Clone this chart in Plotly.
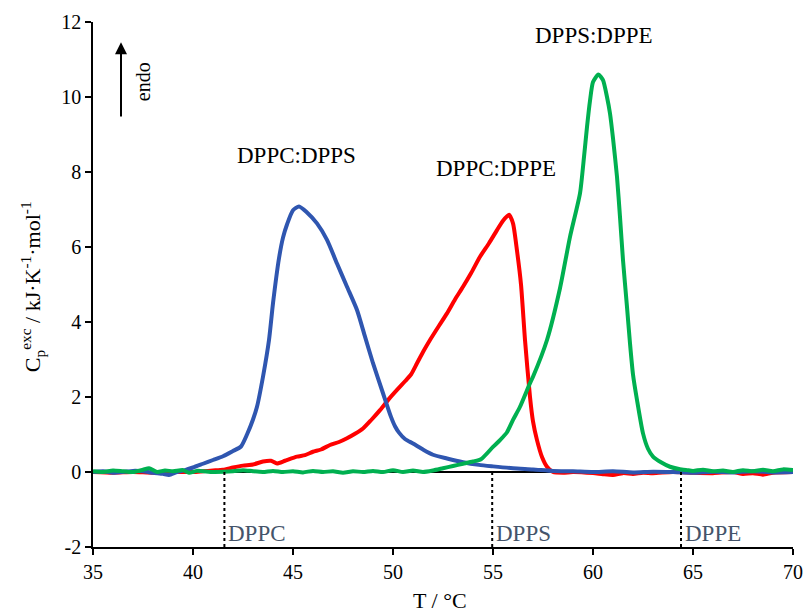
import plotly.graph_objects as go

# ---- data ----
x_dppc_dpps = [35, 35.5, 36, 36.5, 37, 37.5, 38, 38.5, 38.8, 39.2, 39.6, 40, 40.5, 41, 41.5, 42, 42.4,
               42.7, 43.0, 43.2, 43.5, 43.8, 44.0, 44.3, 44.5, 44.7, 45.0, 45.3, 45.7, 46.2, 46.7, 47.2, 47.7,
               48.2, 48.6, 49.0, 49.5, 49.9, 50.1, 50.3, 50.6, 51.0, 51.5, 52.0, 52.7, 53.5, 54.3, 55, 56, 57,
               58, 59, 60, 61, 62, 63, 64, 65, 66, 67, 68, 69, 70]
y_dppc_dpps = [0.0, 0.02, -0.02, 0.0, 0.03, 0.02, -0.02, -0.05, -0.08, 0.0, 0.05, 0.12, 0.22, 0.32, 0.42,
               0.56, 0.68, 1.0, 1.4, 1.74, 2.54, 3.52, 4.5, 5.7, 6.25, 6.6, 6.98, 7.08, 6.92, 6.63, 6.19, 5.56,
               4.94, 4.32, 3.61, 2.9, 2.1, 1.47, 1.22, 1.05, 0.88, 0.76, 0.6, 0.46, 0.36, 0.26, 0.19, 0.15, 0.1,
               0.07, 0.03, 0.02, 0.0, 0.02, -0.01, 0.01, 0.0, -0.02, 0.01, -0.01, 0.02, -0.01, 0.0]

x_dppc_dppe = [35, 36, 37, 38, 39, 40, 40.5, 41, 41.5, 42, 42.5, 43, 43.5, 43.9, 44.2, 44.6, 45.2, 45.6,
               46.0, 46.4, 46.85, 47.3, 47.7, 48.1, 48.5, 48.9, 49.35, 49.8, 50.2, 50.6, 50.9, 51.2, 51.5,
               51.85, 52.3, 52.7, 53.1, 53.5, 53.9, 54.35, 54.8, 55.2, 55.5, 55.8, 56.0, 56.2, 56.4,
               56.6, 56.85, 57.0, 57.2, 57.45, 57.7, 58.0, 58.5, 59, 60, 60.5, 61, 61.5, 62, 62.5, 63,
               64, 65, 66, 67, 67.5, 68, 68.5, 69, 70]
y_dppc_dppe = [0.0, -0.02, 0.0, -0.02, 0.0, 0.0, 0.02, 0.04, 0.06, 0.12, 0.17, 0.2, 0.28, 0.3, 0.23, 0.3,
               0.41, 0.45, 0.54, 0.6, 0.72, 0.8, 0.9, 1.02, 1.16, 1.38, 1.65, 1.95, 2.19, 2.42, 2.6, 2.9, 3.2,
               3.52, 3.9, 4.23, 4.6, 4.94, 5.3, 5.74, 6.1, 6.45, 6.7, 6.86, 6.63, 5.9, 5.0, 3.52, 2.0,
               1.35, 0.85, 0.4, 0.14, 0.0, -0.02, 0.0, -0.03, -0.06, -0.08, -0.03, -0.05, -0.02, -0.03,
               0.0, -0.02, -0.03, 0.0, -0.05, -0.03, -0.07, -0.02, 0.0]

x_dpps_dppe = [35, 35.5, 36, 36.5, 37, 37.5, 37.8, 38.2, 38.6, 39, 39.5, 39.8, 40.2, 41, 42, 42.5, 43,
               43.5, 44, 44.5, 45, 45.5, 46, 46.5, 47, 47.5, 48, 48.5, 49, 49.5, 50, 50.5, 51, 51.5, 52,
               52.5, 53, 53.5, 54, 54.4, 55.0, 55.35, 55.7, 56.0, 56.35, 56.85, 57.0, 57.7, 58.35, 58.85,
               59.35, 59.55, 59.7, 59.85, 60.0, 60.27, 60.5, 60.7, 60.85, 61.0, 61.2, 61.35, 61.5, 61.7,
               61.85, 62.0, 62.2, 62.5, 62.75, 63.0, 63.4, 63.85, 64.3, 64.7, 65, 65.5, 66, 66.5, 67,
               67.5, 68, 68.5, 69, 69.5, 70]
y_dpps_dppe = [0.02, 0.0, 0.04, 0.02, 0.0, 0.06, 0.1, 0.0, 0.04, 0.02, 0.05, -0.02, 0.03, 0.0, 0.02, 0.05,
               0.02, 0.0, 0.03, 0.0, 0.02, -0.01, 0.03, 0.0, 0.02, -0.02, 0.02, 0.0, 0.03, 0.0, 0.05, 0.0,
               0.04, 0.0, 0.04, 0.1, 0.16, 0.22, 0.28, 0.34, 0.67, 0.85, 1.06, 1.39, 1.74, 2.37, 2.54,
               3.52, 4.9, 6.27, 7.43, 8.4, 9.2, 9.9, 10.4, 10.6, 10.45, 10.0, 9.56, 8.9, 7.87, 6.8, 5.65,
               4.4, 3.43, 2.6, 1.92, 1.03, 0.62, 0.41, 0.26, 0.14, 0.08, 0.05, 0.03, 0.06, 0.02, 0.04,
               0.0, 0.05, 0.02, 0.06, 0.02, 0.07, 0.05]

pure_names = ["DPPC", "DPPS", "DPPE"]
pure_tm = [41.57, 54.96, 64.4]

x_ticks = [35, 40, 45, 50, 55, 60, 65, 70]
y_ticks = [-2, 0, 2, 4, 6, 8, 10, 12]
y_ticktext = ["-2", "0", "2", "4", "6", "8", "10", "12"]

FONT = "Liberation Serif"

fig = go.Figure()
fig.add_trace(go.Scatter(x=x_dppc_dppe, y=y_dppc_dppe, mode="lines", line=dict(color="#FF0000", width=4, shape="spline", smoothing=0.6),
                         name="DPPC:DPPE"))
fig.add_trace(go.Scatter(x=x_dppc_dpps, y=y_dppc_dpps, mode="lines", line=dict(color="#2F56B0", width=4, shape="spline", smoothing=0.6),
                         name="DPPC:DPPS"))
fig.add_trace(go.Scatter(x=x_dpps_dppe, y=y_dpps_dppe, mode="lines", line=dict(color="#00B050", width=4, shape="spline", smoothing=0.6),
                         name="DPPS:DPPE"))

# dotted markers for pure lipid transition temperatures
for name, tm in zip(pure_names, pure_tm):
    fig.add_shape(type="line", x0=tm, x1=tm, y0=0, y1=-2, xref="x", yref="y",
                  line=dict(color="black", width=2, dash="dot"))
    fig.add_annotation(x=tm, y=-1.65, xref="x", yref="y", text=name, showarrow=False,
                       xanchor="left", xshift=2, yanchor="middle",
                       font=dict(family=FONT, size=23, color="#44546A"))

# curve labels
labels = [("DPPC:DPPS", 45.15, 8.45), ("DPPC:DPPE", 55.14, 8.1), ("DPPS:DPPE", 60.06, 11.64)]
for txt, lx, ly in labels:
    fig.add_annotation(x=lx, y=ly, xref="x", yref="y", text=txt, showarrow=False,
                       xanchor="center", yanchor="middle", font=dict(family=FONT, size=23, color="black"))

# endo arrow
fig.add_annotation(x=36.4, y=11.46, ax=36.4, ay=9.44, xref="x", yref="y", axref="x", ayref="y",
                   text="", showarrow=True, arrowhead=2, arrowsize=1.2, arrowwidth=2, arrowcolor="black")
fig.add_annotation(x=37.48, y=10.41, xref="x", yref="y", text="endo", textangle=-90, showarrow=False,
                   xanchor="center", yanchor="middle",
                   font=dict(family=FONT, size=20, color="black"))

# axis titles
fig.add_annotation(x=-0.087, y=0.495, xref="paper", yref="paper", showarrow=False, textangle=-90,
                   xanchor="center", yanchor="middle",
                   text="C<sub>p</sub><sup>exc</sup> / kJ·K<sup>-1</sup>·mol<sup>-1</sup>",
                   font=dict(family=FONT, size=22, color="black"))
fig.add_annotation(x=0.496, y=-0.101, xref="paper", yref="paper", showarrow=False, text="T / °C",
                   xanchor="center", yanchor="middle",
                   font=dict(family=FONT, size=22, color="black"))

fig.update_layout(
    width=804, height=613,
    margin=dict(l=93, r=11, t=22, b=66, autoexpand=False),
    paper_bgcolor="white", plot_bgcolor="white",
    showlegend=False,
    font=dict(family=FONT, size=20, color="black"),
    xaxis=dict(range=[35, 70], tickvals=x_ticks, showgrid=False, zeroline=False, showline=True,
               automargin=False,
               linecolor="black", linewidth=1.5, ticks="outside", ticklen=6, tickcolor="black",
               tickwidth=1.5, tickfont=dict(family=FONT, size=20, color="black")),
    yaxis=dict(range=[-2, 12], tickvals=y_ticks, ticktext=y_ticktext, showgrid=False, zeroline=True,
               automargin=False,
               zerolinecolor="black", zerolinewidth=1.5, showline=True, linecolor="black", linewidth=1.5,
               ticks="outside", ticklen=6, tickcolor="black", tickwidth=1.5,
               tickfont=dict(family=FONT, size=20, color="black")),
)

fig.write_html("out.html")
